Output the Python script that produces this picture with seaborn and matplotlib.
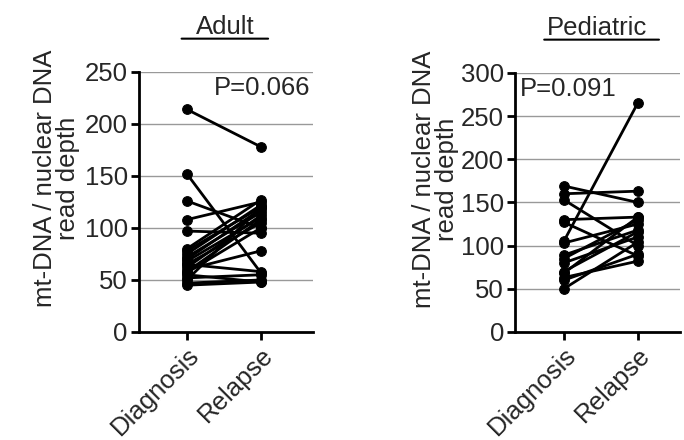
import pandas as pd
import seaborn as sns
import matplotlib
matplotlib.use("Agg")
import matplotlib.pyplot as plt

# ------------------------------------------------------------------------------
# Data
# ------------------------------------------------------------------------------
groups = ["Diagnosis", "Relapse"]

adult_dx = [214, 152, 126, 108, 97, 80, 78, 75, 72, 70, 68, 65, 62, 60, 58, 57, 55, 52, 47, 45, 50, 65]
adult_rel = [178, 57, 100, 125, 95, 127, 120, 122, 115, 118, 110, 105, 112, 78, 108, 100, 48, 55, 50, 48, 120, 58]

ped_dx = [169, 160, 153, 130, 127, 105, 103, 89, 85, 80, 68, 63, 60, 50, 70]
ped_rel = [150, 163, 100, 133, 88, 265, 125, 118, 130, 110, 133, 82, 90, 104, 116]

p_adult = "P=0.066"
p_ped = "P=0.091"


def to_long(dx, rel):
    rows = []
    for i, (a, b) in enumerate(zip(dx, rel)):
        rows.append({"pair": i, "x": 0, "val": a})
        rows.append({"pair": i, "x": 1, "val": b})
    return pd.DataFrame(rows)


adult_df = to_long(adult_dx, adult_rel)
ped_df = to_long(ped_dx, ped_rel)

sns.set_style("ticks")
plt.rcParams['font.family'] = ['Liberation Sans', 'DejaVu Sans']
FS = 18.5

fig = plt.figure(figsize=(6.84, 4.40), dpi=100)
ax1 = fig.add_axes([0.203, 0.2455, 0.254, 0.591])
ax2 = fig.add_axes([0.753, 0.2455, 0.241, 0.589])


def draw_panel(ax, df, ymax, yticks, title, ptext, pleft, uline):
    for yt in yticks[1:]:
        ax.axhline(yt, color="#999999", lw=1.0, zorder=0)
    sns.lineplot(data=df, x="x", y="val", units="pair", estimator=None,
                 color="black", lw=2.0, marker="o", markersize=7,
                 markeredgecolor="black", ax=ax, legend=False)
    ax.set_ylim(0, ymax)
    ax.set_yticks(yticks)
    ax.set_xticks([0, 1])
    ax.set_xticklabels(groups, rotation=45, ha="right", rotation_mode="anchor", fontsize=FS)
    ax.set_xlabel("")
    ax.set_ylabel("mt-DNA / nuclear DNA\nread depth", fontsize=FS, linespacing=0.95)
    ax.yaxis.set_label_coords(-0.34, 0.59)
    for s in ["top", "right"]:
        ax.spines[s].set_visible(False)
    for s in ["left", "bottom"]:
        ax.spines[s].set_linewidth(2.0)
        ax.spines[s].set_color("black")
    ax.tick_params(width=2.0, length=6, color="black", labelsize=FS, pad=2)
    ax.set_facecolor("white")
    if pleft:
        ax.text(0.03, 0.985, ptext, transform=ax.transAxes, ha="left", va="top", fontsize=FS)
    else:
        ax.text(0.985, 0.985, ptext, transform=ax.transAxes, ha="right", va="top", fontsize=FS)
    ax.text(0.5, 1.145, title, transform=ax.transAxes, ha="center", va="baseline", fontsize=FS)
    ax.annotate("", xy=(uline[0], 1.128), xytext=(uline[1], 1.128), xycoords="axes fraction",
                arrowprops=dict(arrowstyle="-", color="black", lw=1.5))


draw_panel(ax1, adult_df, 250, [0, 50, 100, 150, 200, 250], "Adult", p_adult, False, (0.23, 0.76))
draw_panel(ax2, ped_df, 300, [0, 50, 100, 150, 200, 250, 300], "Pediatric", p_ped, True, (0.16, 0.89))
ax1.set_xlim(-0.65, 1.70)
ax2.set_xlim(-0.66, 1.57)

fig.savefig("out.png", dpi=100, facecolor="white")
